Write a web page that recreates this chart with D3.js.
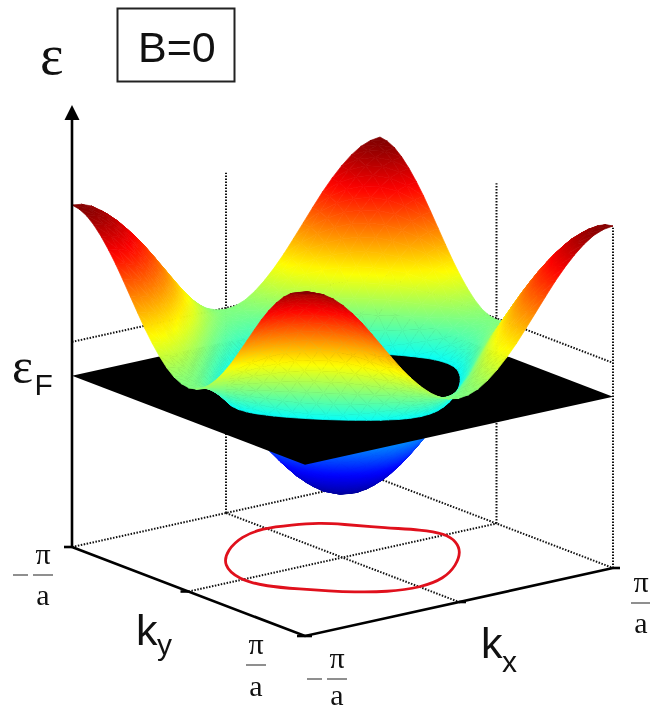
<!DOCTYPE html>
<html>
<head>
<meta charset="utf-8">
<script src="https://cdnjs.cloudflare.com/ajax/libs/d3/7.8.5/d3.min.js"></script>
<style>
html, body { margin: 0; padding: 0; background: #fff; }
svg { display: block; filter: blur(0.45px); }
text { fill: #111; }
.sans { font-family: "Liberation Sans", Arial, sans-serif; }
.serif { font-family: "Liberation Serif", "Times New Roman", serif; }
</style>
</head>
<body>
<div class="chart"></div>
<script>
// band energy on one quadrant of the zone, kx = -pi..0 (columns), ky = -pi..0 (rows)
const bandQuadrant = [
    [4.00, 3.96, 3.85, 3.66, 3.41, 3.11, 2.77, 2.39, 2.00, 1.61, 1.23, 0.89, 0.59, 0.34, 0.15, 0.04, 0.00],
    [3.96, 3.92, 3.81, 3.62, 3.37, 3.07, 2.73, 2.35, 1.96, 1.57, 1.19, 0.85, 0.55, 0.30, 0.11, 0.00, -0.04],
    [3.85, 3.81, 3.70, 3.51, 3.26, 2.96, 2.62, 2.24, 1.85, 1.46, 1.08, 0.74, 0.44, 0.19, 0.00, -0.11, -0.15],
    [3.66, 3.62, 3.51, 3.32, 3.07, 2.77, 2.43, 2.05, 1.66, 1.27, 0.89, 0.55, 0.25, 0.00, -0.19, -0.30, -0.34],
    [3.41, 3.37, 3.26, 3.07, 2.82, 2.52, 2.18, 1.80, 1.41, 1.02, 0.64, 0.30, 0.00, -0.25, -0.44, -0.55, -0.59],
    [3.11, 3.07, 2.96, 2.77, 2.52, 2.22, 1.88, 1.50, 1.11, 0.72, 0.34, 0.00, -0.30, -0.55, -0.74, -0.85, -0.89],
    [2.77, 2.73, 2.62, 2.43, 2.18, 1.88, 1.54, 1.16, 0.77, 0.38, 0.00, -0.34, -0.64, -0.89, -1.08, -1.19, -1.23],
    [2.39, 2.35, 2.24, 2.05, 1.80, 1.50, 1.16, 0.78, 0.39, 0.00, -0.38, -0.72, -1.02, -1.27, -1.46, -1.57, -1.61],
    [2.00, 1.96, 1.85, 1.66, 1.41, 1.11, 0.77, 0.39, 0.00, -0.39, -0.77, -1.11, -1.41, -1.66, -1.85, -1.96, -2.00],
    [1.61, 1.57, 1.46, 1.27, 1.02, 0.72, 0.38, 0.00, -0.39, -0.78, -1.16, -1.50, -1.80, -2.05, -2.24, -2.35, -2.39],
    [1.23, 1.19, 1.08, 0.89, 0.64, 0.34, 0.00, -0.38, -0.77, -1.16, -1.54, -1.88, -2.18, -2.43, -2.62, -2.73, -2.77],
    [0.89, 0.85, 0.74, 0.55, 0.30, 0.00, -0.34, -0.72, -1.11, -1.50, -1.88, -2.22, -2.52, -2.77, -2.96, -3.07, -3.11],
    [0.59, 0.55, 0.44, 0.25, 0.00, -0.30, -0.64, -1.02, -1.41, -1.80, -2.18, -2.52, -2.82, -3.07, -3.26, -3.37, -3.41],
    [0.34, 0.30, 0.19, 0.00, -0.25, -0.55, -0.89, -1.27, -1.66, -2.05, -2.43, -2.77, -3.07, -3.32, -3.51, -3.62, -3.66],
    [0.15, 0.11, 0.00, -0.19, -0.44, -0.74, -1.08, -1.46, -1.85, -2.24, -2.62, -2.96, -3.26, -3.51, -3.70, -3.81, -3.85],
    [0.04, 0.00, -0.11, -0.30, -0.55, -0.85, -1.19, -1.57, -1.96, -2.35, -2.73, -3.07, -3.37, -3.62, -3.81, -3.92, -3.96],
    [0.00, -0.04, -0.15, -0.34, -0.59, -0.89, -1.23, -1.61, -2.00, -2.39, -2.77, -3.11, -3.41, -3.66, -3.85, -3.96, -4.00]
];

const fermiEnergy = -0.94;
const wallTop = 3.95;
const wallMid = 0.04;
const zoneTicks = [-1, 0, 1];

// red loop on the floor, in units of pi/a
const loopKx = [-0.575, -0.665, -0.625, -0.514, -0.412, -0.328, -0.189, 0.001, 0.193, 0.382, 0.545,
    0.640, 0.680, 0.622, 0.501, 0.351, 0.279, 0.146, -0.020, -0.189, -0.392];
const loopKy = [-0.265, -0.016, 0.175, 0.315, 0.438, 0.524, 0.631, 0.675, 0.618, 0.470, 0.295,
    0.133, -0.019, -0.150, -0.280, -0.485, -0.562, -0.625, -0.668, -0.615, -0.470];

const jetStops = [0, 0.125, 0.375, 0.625, 0.875, 1];
const jetColors = ["#000090", "#0000ff", "#00ffff", "#ffff00", "#ff0000", "#800000"];

const width = 650, height = 711;

const svg = d3.select(".chart").append("svg")
    .attr("width", width)
    .attr("height", height);
const defs = svg.append("defs");

// oblique axes: each of kx, ky and energy moves the point on the page
const kxToX = d3.scaleLinear().domain([-1, 1]).range([72, 380]);
const kxToY = d3.scaleLinear().domain([-1, 1]).range([547, 479]);
const kyToX = d3.scaleLinear().domain([-1, 1]).range([0, 233]);
const kyToY = d3.scaleLinear().domain([-1, 1]).range([0, 89]);
const energyToZ = d3.scaleLinear().domain([-4, 4]).range([0, -276.5]);
const floorZ = -65.5;
const index = d3.scaleLinear().domain([0, 32]).range([-1, 1]);
const jet = d3.scaleLinear().domain(jetStops.map(d => d * 8 - 4)).range(jetColors).clamp(true);

function floorPoint(kx, ky) {
    return [kxToX(kx) + kyToX(ky), kxToY(kx) + kyToY(ky)];
}
function point(kx, ky, e) {
    const f = floorPoint(kx, ky);
    return [f[0], f[1] + floorZ + energyToZ(e)];
}
function mirror(i) { return i <= 16 ? i : 32 - i; }
function energyAt(i, j) { return bandQuadrant[mirror(j)][mirror(i)]; }
function vertex(i, j) {
    const e = energyAt(i, j);
    return {p: point(index(i), index(j), e), e: e};
}

// keep the part of a polygon on one side of the fermi level
function clip(poly, side) {
    const out = [];
    poly.forEach(function(a, n) {
        const b = poly[(n + 1) % poly.length];
        const da = (a.e - fermiEnergy) * side, db = (b.e - fermiEnergy) * side;
        if (da >= 0) out.push(a);
        if ((da > 0 && db < 0) || (da < 0 && db > 0)) {
            const t = da / (da - db);
            out.push({
                p: [a.p[0] + t * (b.p[0] - a.p[0]), a.p[1] + t * (b.p[1] - a.p[1])],
                e: fermiEnergy
            });
        }
    });
    return out;
}

let gradCount = 0;
function gradientFor(tri) {
    const A = tri[0], B = tri[1], C = tri[2];
    const lo = d3.min(tri, d => d.e), hi = d3.max(tri, d => d.e);
    const x1 = B.p[0] - A.p[0], y1 = B.p[1] - A.p[1], e1 = B.e - A.e;
    const x2 = C.p[0] - A.p[0], y2 = C.p[1] - A.p[1], e2 = C.e - A.e;
    const det = x1 * y2 - x2 * y1;
    if (hi - lo < 0.001 || Math.abs(det) < 0.01) return jet((lo + hi) / 2);
    const gx = (e1 * y2 - e2 * y1) / det, gy = (x1 * e2 - x2 * e1) / det;
    const g2 = gx * gx + gy * gy;
    const start = tri.find(d => d.e === lo).p;
    const id = "g" + (gradCount++);
    const grad = defs.append("linearGradient")
        .attr("id", id)
        .attr("gradientUnits", "userSpaceOnUse")
        .attr("x1", start[0])
        .attr("y1", start[1])
        .attr("x2", start[0] + (hi - lo) * gx / g2)
        .attr("y2", start[1] + (hi - lo) * gy / g2);
    [0, 0.5, 1].forEach(function(s) {
        grad.append("stop").attr("offset", s).attr("stop-color", jet(lo + s * (hi - lo)));
    });
    return "url(#" + id + ")";
}

const facetsBelow = [], facetsAbove = [];
function addTriangle(tri) {
    const paint = gradientFor(tri);
    const up = clip(tri, 1), down = clip(tri, -1);
    if (down.length > 2) facetsBelow.push({poly: down, paint: paint});
    if (up.length > 2) facetsAbove.push({poly: up, paint: paint});
}
// painter's order, back corner (kx high, ky low) first
for (let i = 31; i >= 0; i--) {
    for (let j = 0; j < 32; j++) {
        const a = vertex(i, j), b = vertex(i + 1, j), c = vertex(i + 1, j + 1), d = vertex(i, j + 1);
        addTriangle([a, b, c]);
        addTriangle([a, c, d]);
    }
}

const polyLine = d3.line();

// --- floor and walls, dotted ---
const dotted = svg.append("g")
    .attr("fill", "none")
    .attr("stroke", "#111")
    .attr("stroke-width", 2)
    .attr("stroke-dasharray", "1.5,1.5");

function floorSegment(a, b) { return [floorPoint(a[0], a[1]), floorPoint(b[0], b[1])]; }
const dottedSegments = [
    floorSegment([-1, -1], [1, -1]),
    floorSegment([1, -1], [1, 1]),
    floorSegment([0, -1], [0, 1]),
    floorSegment([-1, 0], [1, 0]),
    [point(-1, -1, wallMid), point(1, -1, wallMid)],
    [point(1, -1, wallMid), point(1, 1, wallMid)],
    [floorPoint(0, -1), point(0, -1, wallTop)],
    [floorPoint(1, 0), point(1, 0, wallTop)],
    [floorPoint(1, 1), point(1, 1, wallTop)]
];
dotted.selectAll("path")
    .data(dottedSegments)
    .enter().append("path")
    .attr("d", d => polyLine(d));

// --- red loop ---
svg.append("path")
    .datum(loopKx.map((k, n) => floorPoint(k, loopKy[n])))
    .attr("d", d3.line().curve(d3.curveBasisClosed))
    .attr("fill", "none")
    .attr("stroke", "#e0101c")
    .attr("stroke-width", 2.8);

// --- surface ---
function drawFacets(rows) {
    svg.append("g").selectAll("path")
        .data(rows)
        .enter().append("path")
        .attr("d", d => polyLine(d.poly.map(v => v.p)) + "Z")
        .attr("fill", d => d.paint)
        .attr("stroke", d => d.paint)
        .attr("stroke-width", 0.7)
        .attr("stroke-linejoin", "round");
}
drawFacets(facetsBelow);

svg.append("path")
    .attr("d", polyLine([[-1, -1], [1, -1], [1, 1], [-1, 1]].map(c => point(c[0], c[1], fermiEnergy))) + "Z")
    .attr("fill", "#000");

drawFacets(facetsAbove);

// --- solid axes ---
const axes = svg.append("g")
    .attr("fill", "none")
    .attr("stroke", "#000")
    .attr("stroke-width", 2.6);
axes.append("path")
    .attr("d", polyLine([floorPoint(-1, -1), floorPoint(-1, 1), floorPoint(1, 1)]));
axes.append("path")
    .attr("d", polyLine([floorPoint(-1, -1), [kxToX(-1), 118]]));
svg.append("path")
    .attr("d", polyLine([[kxToX(-1), 105], [kxToX(-1) + 7.5, 120], [kxToX(-1) - 7.5, 120]]) + "Z")
    .attr("fill", "#000");

// ticks on ky edge and kx edge
axes.selectAll(".ky-tick")
    .data(zoneTicks)
    .enter().append("path")
    .attr("class", "ky-tick")
    .attr("d", function(d) {
        const f = floorPoint(-1, d);
        return polyLine([[f[0] - 8, f[1]], [f[0], f[1]]]);
    });
axes.selectAll(".kx-tick")
    .data(zoneTicks)
    .enter().append("path")
    .attr("class", "kx-tick")
    .attr("d", function(d) {
        const f = floorPoint(d, 1);
        return polyLine([[f[0], f[1]], [f[0] + 7, f[1]]]);
    });

// --- labels ---
svg.append("rect")
    .attr("x", 117.5).attr("y", 8.5)
    .attr("width", 117).attr("height", 73)
    .attr("fill", "none")
    .attr("stroke", "#222")
    .attr("stroke-width", 2);

function label(cls, x, y, size, txt, anchor) {
    return svg.append("text")
        .attr("class", cls)
        .attr("x", x).attr("y", y)
        .attr("text-anchor", anchor || "start")
        .style("font-size", size + "px")
        .text(txt);
}
label("sans", 138, 62, 43, "B=0");
label("serif", 40, 74, 56, "ε");
label("serif", 12, 383, 50, "ε");
label("sans", 34.5, 395, 30, "F");
label("sans", 136, 645, 43, "k");
label("sans", 157, 655, 30, "y");
label("sans", 481, 658, 43, "k");
label("sans", 502, 672, 30, "x");

// pi/a fractions at the ends of the two edges
const fractionX = [43, 256, 337, 641];
const fractionY = [575, 665, 679, 603];
const fractionA = [30, 31, 25.5, 30];
const fractionNeg = [true, false, true, false];
fractionX.forEach(function(x, n) {
    const y = fractionY[n];
    label("serif", x, y - 11, 30, "π", "middle");
    label("serif", x, y + fractionA[n], 30, "a", "middle");
    svg.append("path")
        .attr("d", polyLine([[x - 10, y], [x + 10, y]]))
        .attr("stroke", "#444").attr("stroke-width", 1.2);
    if (fractionNeg[n]) {
        svg.append("path")
            .attr("d", polyLine([[x - 30, y], [x - 15, y]]))
            .attr("stroke", "#444").attr("stroke-width", 1.2);
    }
});
</script>
</body>
</html>
